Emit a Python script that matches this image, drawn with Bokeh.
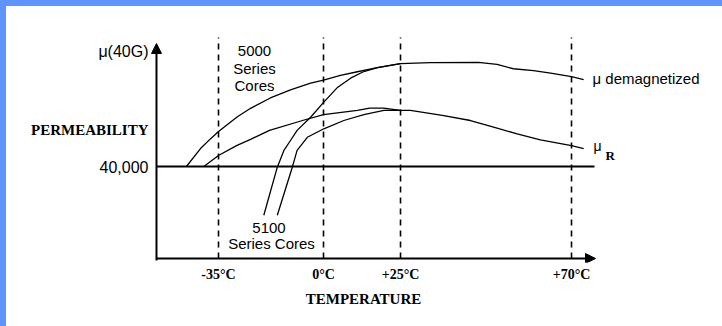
import numpy as np
from bokeh.plotting import figure
from bokeh.models import Range1d, FixedTicker, Arrow, NormalHead
from bokeh.embed import file_html
from bokeh.resources import INLINE

# ---------------- data ----------------
TICK_TEMPS = [-35, 0, 25, 70]
TICK_LABELS = ["-35°C", "0°C", "+25°C", "+70°C"]
# schematic (non-uniform) temperature axis: position of each tick on the axis
TICK_AXIS_POS = [-35.0, 0.0, 25.67, 82.67]

REF_PERM = 40000
REF_LABEL = "40,000"

# 5000 Series cores, mu demagnetized
t_5000_demag = [-45.7, -41, -37.7, -35, -28.7, -24.3, -17.7, -11, -4.3, 0, 5.5, 11, 17.5, 25, 32.9, 45.5, 50.4, 54.7, 60, 64.5, 70, 73.2]
mu_5000_demag = [40000, 47800, 52000, 55200, 61600, 65300, 69800, 73300, 76200, 77600, 79600, 81200, 83000, 84700, 85200, 85300, 84400, 82500, 81700, 80600, 79100, 77800]

# 5000 Series cores, mu R
t_5000_r = [-39.9, -35, -29, -24.3, -18, -7, 0, 11, 15, 19.5, 25, 27.6, 36, 43.4, 49.5, 55.7, 61.8, 70, 73.2]
mu_5000_r = [40000, 44800, 49100, 51800, 55700, 60000, 62600, 64400, 65400, 65400, 64400, 64400, 62200, 60000, 57100, 54200, 51600, 49100, 47800]

# 5100 Series cores, mu demagnetized
t_5100_demag = [-19.9, -15.4, -13.2, -11, -8.8, -4.3, 0.1, 4.4, 8.8, 13.1, 17.5, 21.7, 25]
mu_5100_demag = [18800, 39700, 47000, 51300, 55700, 61400, 68000, 74200, 78400, 81300, 83000, 84000, 84700]

# 5100 Series cores, mu R
t_5100_r = [-15.4, -10.4, -8.8, -5.4, 0.1, 6.6, 13.1, 19.6, 25]
mu_5100_r = [18800, 39700, 47000, 52700, 56400, 60000, 62600, 64400, 64400]


def to_axis(t):
    """Map temperature to the schematic (piecewise-linear) axis position."""
    t = np.asarray(t, dtype=float)
    u = np.interp(t, TICK_TEMPS, TICK_AXIS_POS)
    s_lo = (TICK_AXIS_POS[1] - TICK_AXIS_POS[0]) / (TICK_TEMPS[1] - TICK_TEMPS[0])
    s_hi = (TICK_AXIS_POS[-1] - TICK_AXIS_POS[-2]) / (TICK_TEMPS[-1] - TICK_TEMPS[-2])
    lo = t < TICK_TEMPS[0]
    hi = t > TICK_TEMPS[-1]
    u[lo] = TICK_AXIS_POS[0] + (t[lo] - TICK_TEMPS[0]) * s_lo
    u[hi] = TICK_AXIS_POS[-1] + (t[hi] - TICK_TEMPS[-1]) * s_hi
    return u


SANS = "Liberation Sans"
SERIF = "Liberation Serif"

p = figure(width=706, height=310,
           x_range=Range1d(-103.667, 130.333), y_range=Range1d(-1739, 108696),
           output_backend="svg", toolbar_location=None, y_axis_location=None,
           min_border_left=4, min_border_bottom=56, min_border_top=0, min_border_right=0)
p.outline_line_color = None
p.xgrid.visible = False
p.ygrid.visible = False
p.background_fill_color = "white"
p.border_fill_color = "white"

# x axis: tick labels + axis title (axis line drawn with an arrow)
p.xaxis.ticker = FixedTicker(ticks=TICK_AXIS_POS)
p.xaxis.major_label_overrides = {pos: lab for pos, lab in zip(TICK_AXIS_POS, TICK_LABELS)}
p.xaxis.axis_line_color = None
p.xaxis.major_tick_line_color = None
p.xaxis.minor_tick_line_color = None
p.xaxis.major_tick_out = 0
p.xaxis.major_tick_in = 0
p.xaxis.major_label_standoff = 4
p.xaxis.major_label_text_font = SERIF
p.xaxis.major_label_text_font_style = "bold"
p.xaxis.major_label_text_font_size = "14px"
p.xaxis.major_label_text_color = "black"
p.xaxis.axis_label = "TEMPERATURE"
p.xaxis.axis_label_text_font = SERIF
p.xaxis.axis_label_text_font_style = "bold"
p.xaxis.axis_label_text_font_size = "15px"
p.xaxis.axis_label_text_color = "black"
p.xaxis.axis_label_standoff = 6

x_axis_at = -55.67
y_top = 93478
x_end = 90.67

# dashed verticals at the tick temperatures
p.segment(x0=TICK_AXIS_POS, y0=[0] * 4, x1=TICK_AXIS_POS, y1=[96087] * 4,
          line_color="black", line_width=1.6, line_dash="6 5")

# 40,000 reference line
p.segment(x0=[x_axis_at], y0=[REF_PERM], x1=[90.33], y1=[REF_PERM],
          line_color="black", line_width=2)

# axes with arrows
p.add_layout(Arrow(end=NormalHead(size=10, fill_color="black", line_color="black"),
                   x_start=x_axis_at, y_start=-900, x_end=x_axis_at, y_end=y_top,
                   line_color="black", line_width=2))
p.add_layout(Arrow(end=NormalHead(size=10, fill_color="black", line_color="black"),
                   x_start=x_axis_at, y_start=0, x_end=x_end, y_end=0,
                   line_color="black", line_width=2))

# curves
for t, mu in [(t_5000_demag, mu_5000_demag), (t_5000_r, mu_5000_r),
              (t_5100_demag, mu_5100_demag), (t_5100_r, mu_5100_r)]:
    p.line(to_axis(t), mu, line_color="black", line_width=1.3, line_join="round")


def txt(x, y, s, font=SANS, size="15px", align="center", style="normal"):
    p.text(x=[x], y=[y], text=[s], text_font={"value": font}, text_font_size=size,
           text_align=align, text_baseline="middle", text_font_style=style,
           text_color="black")


# y-axis texts
txt(-58.33, REF_PERM, REF_LABEL, size="16px", align="right")
txt(-58.33, 56087, "PERMEABILITY", font=SERIF, align="right", style="bold")
txt(-58.33, 90000, "μ(40G)", size="16px", align="right")

# in-plot annotations
txt(-23, 90435, "5000")
txt(-23, 82610, "Series")
txt(-23, 75217, "Cores")
txt(-18.17, 13478, "5100")
txt(-17.33, 6522, "Series Cores")
txt(89.67, 78260, "μ demagnetized", align="left")
txt(90.0, 48696, "μ", size="14px", align="left")
txt(94.0, 45000, "R", font=SERIF, size="13px", align="left", style="bold")

html = file_html(p, INLINE)
style = ("<style>body{margin:0;padding:2px 0 0 2px;"
         "border-top:6px solid #6194fb;border-left:6px solid #6194fb;background:white;}</style>")
html = html.replace("</head>", style + "</head>", 1)
open("out.html", "w").write(html)
